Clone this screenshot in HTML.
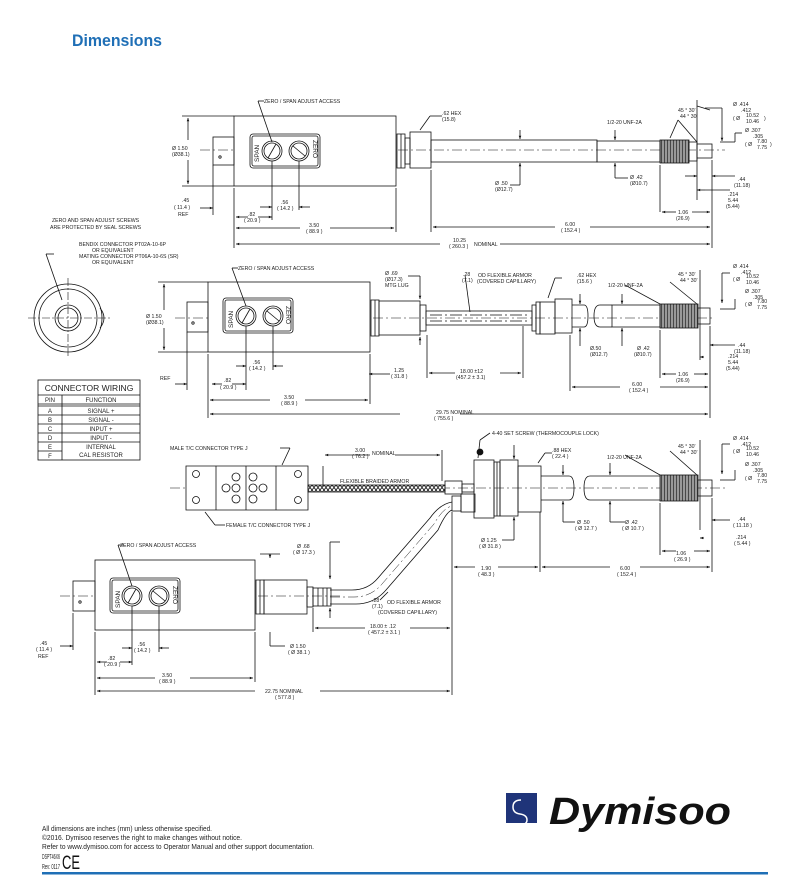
<!DOCTYPE html>
<html><head><meta charset="utf-8"><style>
html,body{margin:0;padding:0;background:#fff;}
body{width:810px;height:887px;position:relative;overflow:hidden;font-family:"Liberation Sans",sans-serif;}
svg text{font-family:"Liberation Sans",sans-serif;fill:#222;}
</style></head><body>
<svg width="810" height="887" viewBox="0 0 810 887" xmlns="http://www.w3.org/2000/svg">
<defs>
<marker id="a" viewBox="0 0 10 10" refX="10" refY="5" markerWidth="5" markerHeight="4" orient="auto-start-reverse"><path d="M0,1 L10,5 L0,9z" fill="#111"/></marker>
<pattern id="thr" width="3" height="4" patternUnits="userSpaceOnUse"><rect width="3" height="4" fill="#999"/><line x1="1.5" y1="0" x2="1.5" y2="4" stroke="#333" stroke-width="0.8"/></pattern>
<pattern id="brd" width="4" height="5" patternUnits="userSpaceOnUse"><rect width="4" height="5" fill="#fff"/><path d="M0,0 L4,5 M4,0 L0,5" stroke="#222" stroke-width="0.9"/></pattern>
</defs>
<text x="72" y="46" font-size="17" font-weight="bold" style="fill:#1f6fb6" textLength="90" lengthAdjust="spacingAndGlyphs">Dimensions</text>

<g stroke="#111" stroke-width="0.8" fill="none">
<!-- ===== DRAWING 1 ===== -->
<line x1="200" y1="150" x2="725" y2="150" stroke-dasharray="10,3,2,3" stroke-width="0.6"/>
<rect x="234" y="116" width="162" height="70" fill="#fff"/>
<rect x="213" y="137" width="21" height="28"/>
<circle cx="220" cy="157" r="1.2"/>
<rect x="250" y="134" width="70" height="34" rx="3"/>
<rect x="252" y="136" width="66" height="30" rx="2"/>
<circle cx="272" cy="151" r="10"/><circle cx="272" cy="151" r="8"/>
<circle cx="299" cy="151" r="10"/><circle cx="299" cy="151" r="8"/>
<line x1="268" y1="158" x2="276" y2="144"/><line x1="293" y1="146" x2="305" y2="156"/>
<rect x="397" y="134" width="8" height="34"/><line x1="401" y1="134" x2="401" y2="168"/>
<rect x="405" y="138" width="5" height="26"/>
<rect x="410" y="132" width="21" height="36"/>
<rect x="431" y="140" width="166" height="22"/>
<rect x="597" y="141" width="63" height="21"/>
<rect x="660" y="140" width="29" height="23" fill="url(#thr)"/>
<rect x="689" y="142" width="8" height="19"/>
<rect x="697" y="144" width="15" height="14"/>
<!-- dims d1 -->
<line x1="182" y1="116" x2="234" y2="116"/><line x1="182" y1="186" x2="234" y2="186"/>
<line x1="188" y1="118" x2="188" y2="140" marker-end="url(#a)" transform="rotate(180 188 129)"/>
<line x1="188" y1="160" x2="188" y2="184" marker-end="url(#a)"/>
<line x1="213" y1="165" x2="213" y2="215"/><line x1="234" y1="188" x2="234" y2="248"/>
<line x1="200" y1="208" x2="213" y2="208" marker-end="url(#a)"/>
<line x1="272" y1="161" x2="272" y2="220"/><line x1="299" y1="161" x2="299" y2="210"/>
<line x1="236" y1="217" x2="248" y2="217" marker-start="url(#a)"/><line x1="258" y1="217" x2="272" y2="217" marker-end="url(#a)"/>
<line x1="260" y1="207" x2="272" y2="207" marker-end="url(#a)"/><line x1="310" y1="207" x2="299" y2="207" marker-end="url(#a)"/>
<line x1="396" y1="188" x2="396" y2="232"/>
<line x1="236" y1="228" x2="300" y2="228" marker-start="url(#a)"/><line x1="330" y1="228" x2="394" y2="228" marker-end="url(#a)"/>
<line x1="236" y1="244" x2="440" y2="244" marker-start="url(#a)"/><line x1="500" y1="244" x2="710" y2="244" marker-end="url(#a)"/>
<line x1="431" y1="170" x2="431" y2="232"/><line x1="712" y1="160" x2="712" y2="248"/>
<line x1="433" y1="227" x2="555" y2="227" marker-start="url(#a)"/><line x1="590" y1="227" x2="710" y2="227" marker-end="url(#a)"/>
<line x1="660" y1="165" x2="660" y2="212"/>
<line x1="662" y1="212" x2="676" y2="212" marker-start="url(#a)"/><line x1="692" y1="212" x2="710" y2="212" marker-end="url(#a)"/>
<line x1="520" y1="130" x2="520" y2="139" marker-end="url(#a)"/><line x1="520" y1="175" x2="520" y2="163" marker-end="url(#a)"/>
<line x1="520" y1="175" x2="520" y2="185"/><line x1="520" y1="185" x2="510" y2="185"/>
<line x1="615" y1="130" x2="615" y2="140" marker-end="url(#a)"/><line x1="615" y1="173" x2="615" y2="163" marker-end="url(#a)"/>
<line x1="615" y1="173" x2="615" y2="178"/><line x1="615" y1="178" x2="628" y2="178"/>
<line x1="697" y1="100" x2="697" y2="200"/><line x1="697" y1="106" x2="710" y2="110"/>
<line x1="678" y1="120" x2="697" y2="142"/><line x1="678" y1="120" x2="670" y2="138"/>
<line x1="705" y1="108" x2="722" y2="108"/><line x1="722" y1="108" x2="722" y2="140"/><line x1="722" y1="140" x2="722" y2="141" marker-end="url(#a)"/>
<line x1="720" y1="142" x2="735" y2="142"/><line x1="735" y1="142" x2="735" y2="133"/><line x1="735" y1="133" x2="742" y2="133"/>
<line x1="718" y1="176" x2="712" y2="176" marker-end="url(#a)"/><line x1="718" y1="176" x2="735" y2="176"/>
<line x1="705" y1="190" x2="697" y2="190" marker-end="url(#a)"/><line x1="705" y1="190" x2="730" y2="190"/>
<line x1="685" y1="176" x2="697" y2="176" marker-end="url(#a)"/>
<line x1="420" y1="130" x2="430" y2="116"/><line x1="430" y1="116" x2="442" y2="116"/>
<line x1="272" y1="142" x2="258" y2="101"/><line x1="258" y1="101" x2="264" y2="101"/>

<!-- ===== DRAWING 2 ===== -->
<circle cx="68" cy="318" r="34"/><circle cx="68" cy="318" r="29"/>
<path d="M100,308 q8,10 0,20"/>
<circle cx="68" cy="318" r="13"/><circle cx="68" cy="318" r="10"/>
<line x1="68" y1="278" x2="68" y2="358" stroke-dasharray="8,2,2,2" stroke-width="0.6"/>
<line x1="28" y1="318" x2="110" y2="318" stroke-dasharray="8,2,2,2" stroke-width="0.6"/>
<line x1="62" y1="300" x2="46" y2="254"/><line x1="46" y1="254" x2="54" y2="254"/>
<line x1="175" y1="318" x2="715" y2="318" stroke-dasharray="10,3,2,3" stroke-width="0.6"/>
<rect x="208" y="282" width="162" height="70" fill="#fff"/>
<rect x="187" y="302" width="21" height="30"/><circle cx="193" cy="323" r="1.2"/>
<rect x="223" y="298" width="70" height="35" rx="3"/><rect x="225" y="300" width="66" height="31" rx="2"/>
<circle cx="246" cy="316" r="10"/><circle cx="246" cy="316" r="8"/>
<circle cx="273" cy="316" r="10"/><circle cx="273" cy="316" r="8"/>
<line x1="242" y1="323" x2="250" y2="309"/><line x1="267" y1="311" x2="279" y2="321"/>
<rect x="371" y="300" width="8" height="36"/><line x1="375" y1="300" x2="375" y2="336"/>
<rect x="379" y="301" width="41" height="34"/>
<rect x="420" y="305" width="6" height="26"/>
<rect x="426" y="311" width="106" height="14"/>
<line x1="430" y1="315" x2="528" y2="315" stroke-dasharray="12,3,2,3"/><line x1="430" y1="321" x2="528" y2="321" stroke-dasharray="12,3,2,3"/>
<rect x="532" y="305" width="4" height="26"/><rect x="536" y="302" width="4" height="32"/>
<rect x="540" y="302" width="15" height="32"/>
<rect x="555" y="299" width="17" height="34"/>
<path d="M572,305 h12 q4,0 4,11 q0,11 -4,11 h-12"/>
<path d="M600,305 q-6,0 -6,11 q0,11 6,11"/>
<line x1="600" y1="305" x2="612" y2="305"/><line x1="600" y1="327" x2="612" y2="327"/>
<rect x="612" y="305" width="48" height="22"/>
<rect x="660" y="304" width="38" height="24" fill="url(#thr)"/>
<rect x="698" y="308" width="12" height="16"/>
<!-- d2 dims -->
<line x1="158" y1="282" x2="208" y2="282"/><line x1="158" y1="352" x2="208" y2="352"/>
<line x1="164" y1="310" x2="164" y2="284" marker-end="url(#a)"/><line x1="164" y1="328" x2="164" y2="350" marker-end="url(#a)"/>
<line x1="187" y1="332" x2="187" y2="390"/><line x1="208" y1="354" x2="208" y2="418"/>
<line x1="175" y1="384" x2="187" y2="384" marker-end="url(#a)"/>
<line x1="246" y1="326" x2="246" y2="390"/><line x1="273" y1="326" x2="273" y2="370"/>
<line x1="212" y1="384" x2="222" y2="384" marker-start="url(#a)"/><line x1="232" y1="384" x2="246" y2="384" marker-end="url(#a)"/>
<line x1="236" y1="366" x2="246" y2="366" marker-end="url(#a)"/><line x1="283" y1="366" x2="273" y2="366" marker-end="url(#a)"/>
<line x1="370" y1="354" x2="370" y2="404"/>
<line x1="210" y1="400" x2="270" y2="400" marker-start="url(#a)"/><line x1="305" y1="400" x2="368" y2="400" marker-end="url(#a)"/>
<line x1="210" y1="414" x2="400" y2="414" marker-start="url(#a)"/><line x1="460" y1="414" x2="708" y2="414" marker-end="url(#a)"/>
<line x1="710" y1="326" x2="710" y2="418"/><line x1="570" y1="335" x2="570" y2="391"/>
<line x1="572" y1="387" x2="620" y2="387" marker-start="url(#a)"/><line x1="660" y1="387" x2="708" y2="387" marker-end="url(#a)"/>
<line x1="427" y1="335" x2="427" y2="378"/><line x1="523" y1="326" x2="523" y2="378"/>
<line x1="429" y1="373" x2="455" y2="373" marker-start="url(#a)"/><line x1="500" y1="373" x2="521" y2="373" marker-end="url(#a)"/>
<line x1="380" y1="374" x2="369" y2="374" marker-end="url(#a)"/><line x1="380" y1="374" x2="390" y2="374"/>
<line x1="660" y1="330" x2="660" y2="378"/>
<line x1="662" y1="374" x2="676" y2="374" marker-start="url(#a)"/><line x1="694" y1="374" x2="708" y2="374" marker-end="url(#a)"/>
<line x1="408" y1="276" x2="420" y2="276"/><line x1="420" y1="276" x2="420" y2="299" marker-end="url(#a)"/>
<line x1="420" y1="345" x2="420" y2="337" marker-end="url(#a)"/>
<line x1="465" y1="275" x2="470" y2="312"/><line x1="548" y1="298" x2="555" y2="278"/><line x1="555" y1="278" x2="562" y2="278"/>
<line x1="580" y1="294" x2="580" y2="304" marker-end="url(#a)"/><line x1="580" y1="346" x2="580" y2="328" marker-end="url(#a)"/>
<line x1="622" y1="294" x2="622" y2="304" marker-end="url(#a)"/><line x1="622" y1="346" x2="622" y2="328" marker-end="url(#a)"/>
<line x1="625" y1="285" x2="660" y2="304"/><line x1="670" y1="282" x2="697" y2="304"/>
<line x1="700" y1="270" x2="700" y2="360"/>
<line x1="722" y1="273" x2="722" y2="303" marker-end="url(#a)"/><line x1="722" y1="273" x2="730" y2="273"/>
<line x1="720" y1="309" x2="735" y2="309"/><line x1="735" y1="309" x2="735" y2="299"/>
<line x1="718" y1="345" x2="710" y2="345" marker-end="url(#a)"/><line x1="718" y1="345" x2="735" y2="345"/>
<line x1="704" y1="357" x2="700" y2="357" marker-end="url(#a)"/>
<line x1="246" y1="306" x2="232" y2="268"/><line x1="232" y1="268" x2="238" y2="268"/>

<!-- connector table -->
<rect x="38" y="380" width="102" height="80"/>
<line x1="38" y1="395" x2="140" y2="395"/><line x1="38" y1="404" x2="140" y2="404"/><line x1="38" y1="406" x2="140" y2="406"/>
<line x1="38" y1="415" x2="140" y2="415"/><line x1="38" y1="424" x2="140" y2="424"/><line x1="38" y1="433" x2="140" y2="433"/><line x1="38" y1="442" x2="140" y2="442"/><line x1="38" y1="451" x2="62" y2="451"/>
<line x1="62" y1="395" x2="62" y2="460"/>

<!-- ===== DRAWING 3 ===== -->
<line x1="170" y1="488" x2="725" y2="488" stroke-dasharray="10,3,2,3" stroke-width="0.6"/>
<path d="M186,466 h122 v44 h-122z" fill="#fff"/>
<line x1="216" y1="466" x2="216" y2="510"/><line x1="246" y1="466" x2="246" y2="510"/><line x1="276" y1="466" x2="276" y2="510"/>
<circle cx="196" cy="474" r="3.5"/><circle cx="196" cy="500" r="3.5"/><circle cx="298" cy="474" r="3.5"/><circle cx="298" cy="500" r="3.5"/>
<circle cx="236" cy="477" r="4"/><circle cx="253" cy="477" r="4"/><circle cx="236" cy="488" r="4"/><circle cx="253" cy="488" r="4"/><circle cx="226" cy="488" r="4"/><circle cx="263" cy="488" r="4"/><circle cx="236" cy="499" r="4"/><circle cx="253" cy="499" r="4"/>
<rect x="308" y="485" width="137" height="7" fill="url(#brd)"/>
<rect x="445" y="481" width="17" height="13"/><rect x="462" y="484" width="12" height="8"/>
<rect x="474" y="460" width="20" height="58"/>
<rect x="494" y="462" width="6" height="54"/><line x1="497" y1="462" x2="497" y2="516"/>
<rect x="500" y="460" width="18" height="56"/>
<rect x="518" y="466" width="23" height="46"/>
<path d="M541,476 h28 q5,0 5,12 q0,12 -5,12 h-28"/>
<path d="M590,476 q-6,0 -6,12 q0,12 6,12"/><line x1="590" y1="476" x2="660" y2="476"/><line x1="590" y1="500" x2="660" y2="500"/>
<rect x="660" y="475" width="38" height="26" fill="url(#thr)"/>
<rect x="698" y="480" width="14" height="16"/>
<!-- capillary bend -->
<rect x="461" y="494" width="14" height="18"/><rect x="452" y="496" width="9" height="15"/>
<path d="M330,590 L352,590 Q368,590 378,578 L430,518 Q440,504 452,502" />
<path d="M330,604 L356,604 Q374,604 386,590 L438,530 Q446,512 452,510"/>
<path d="M330,597 L354,597 Q371,597 382,584 L434,524 Q443,508 452,506" stroke-dasharray="10,3,2,3" stroke-width="0.5"/>
<!-- lower housing -->
<line x1="60" y1="596" x2="340" y2="596" stroke-dasharray="10,3,2,3" stroke-width="0.6"/>
<rect x="95" y="560" width="160" height="70" fill="#fff"/>
<rect x="73" y="581" width="22" height="30"/><circle cx="80" cy="602" r="1.2"/>
<rect x="110" y="578" width="70" height="35" rx="3"/><rect x="112" y="580" width="66" height="31" rx="2"/>
<circle cx="132" cy="596" r="10"/><circle cx="132" cy="596" r="8"/>
<circle cx="159" cy="596" r="10"/><circle cx="159" cy="596" r="8"/>
<line x1="128" y1="603" x2="136" y2="589"/><line x1="153" y1="591" x2="165" y2="601"/>
<rect x="256" y="580" width="8" height="34"/><line x1="260" y1="580" x2="260" y2="614"/>
<rect x="264" y="580" width="43" height="34"/>
<rect x="307" y="587" width="6" height="20"/>
<rect x="313" y="588" width="18" height="18"/>
<line x1="318" y1="588" x2="318" y2="606"/><line x1="323" y1="588" x2="323" y2="606"/><line x1="327" y1="588" x2="327" y2="606"/>
<!-- d3 dims -->
<line x1="323" y1="466" x2="323" y2="487"/>
<line x1="325" y1="455" x2="370" y2="455" marker-start="url(#a)"/><line x1="395" y1="455" x2="440" y2="455" marker-end="url(#a)"/>
<line x1="442" y1="450" x2="442" y2="481"/>
<line x1="282" y1="465" x2="290" y2="448"/><line x1="290" y1="448" x2="280" y2="448"/>
<line x1="205" y1="512" x2="215" y2="525"/><line x1="215" y1="525" x2="225" y2="525"/>
<line x1="478" y1="458" x2="480" y2="440"/><line x1="480" y1="440" x2="490" y2="433"/>
<circle cx="480" cy="452" r="3" fill="#111"/>
<line x1="514" y1="445" x2="514" y2="459" marker-end="url(#a)"/><line x1="514" y1="530" x2="514" y2="517" marker-end="url(#a)"/>
<line x1="514" y1="530" x2="514" y2="540"/><line x1="514" y1="540" x2="502" y2="540"/>
<line x1="538" y1="463" x2="545" y2="453"/><line x1="545" y1="453" x2="552" y2="453"/>
<line x1="563" y1="465" x2="563" y2="475" marker-end="url(#a)"/><line x1="563" y1="512" x2="563" y2="501" marker-end="url(#a)"/>
<line x1="563" y1="512" x2="563" y2="522"/><line x1="563" y1="522" x2="575" y2="522"/>
<line x1="610" y1="463" x2="610" y2="475" marker-end="url(#a)"/><line x1="610" y1="512" x2="610" y2="501" marker-end="url(#a)"/>
<line x1="610" y1="512" x2="610" y2="522"/><line x1="610" y1="522" x2="625" y2="522"/>
<line x1="625" y1="455" x2="660" y2="475"/><line x1="670" y1="451" x2="697" y2="475"/>
<line x1="700" y1="440" x2="700" y2="530"/>
<line x1="722" y1="444" x2="722" y2="474" marker-end="url(#a)"/><line x1="722" y1="444" x2="730" y2="444"/>
<line x1="720" y1="480" x2="735" y2="480"/><line x1="735" y1="480" x2="735" y2="470"/>
<line x1="718" y1="520" x2="712" y2="520" marker-end="url(#a)"/><line x1="718" y1="520" x2="730" y2="520"/>
<line x1="704" y1="538" x2="700" y2="538" marker-end="url(#a)"/>
<line x1="660" y1="503" x2="660" y2="555"/>
<line x1="662" y1="551" x2="676" y2="551" marker-start="url(#a)"/><line x1="694" y1="551" x2="710" y2="551" marker-end="url(#a)"/>
<line x1="712" y1="498" x2="712" y2="572"/><line x1="540" y1="512" x2="540" y2="572"/>
<line x1="542" y1="567" x2="610" y2="567" marker-start="url(#a)"/><line x1="640" y1="567" x2="710" y2="567" marker-end="url(#a)"/>
<line x1="452" y1="512" x2="452" y2="695"/>
<line x1="454" y1="567" x2="475" y2="567" marker-start="url(#a)"/><line x1="498" y1="567" x2="538" y2="567" marker-end="url(#a)"/>
<line x1="313" y1="608" x2="313" y2="632"/>
<line x1="315" y1="628" x2="365" y2="628" marker-start="url(#a)"/><line x1="410" y1="628" x2="450" y2="628" marker-end="url(#a)"/>
<line x1="340" y1="542" x2="330" y2="542"/><line x1="330" y1="542" x2="330" y2="579" marker-end="url(#a)"/>
<line x1="330" y1="618" x2="330" y2="608" marker-end="url(#a)"/>
<line x1="270" y1="554" x2="270" y2="558" marker-end="url(#a)"/><line x1="280" y1="554" x2="260" y2="554"/>
<line x1="270" y1="632" x2="270" y2="646"/><line x1="270" y1="646" x2="285" y2="646"/>
<line x1="380" y1="600" x2="388" y2="592"/>
<line x1="95" y1="632" x2="95" y2="695"/><line x1="73" y1="613" x2="73" y2="650"/><line x1="255" y1="632" x2="255" y2="682"/>
<line x1="60" y1="646" x2="73" y2="646" marker-end="url(#a)"/>
<line x1="132" y1="606" x2="132" y2="665"/><line x1="159" y1="606" x2="159" y2="652"/>
<line x1="97" y1="662" x2="107" y2="662" marker-start="url(#a)"/><line x1="120" y1="662" x2="132" y2="662" marker-end="url(#a)"/>
<line x1="122" y1="648" x2="132" y2="648" marker-end="url(#a)"/><line x1="169" y1="648" x2="159" y2="648" marker-end="url(#a)"/>
<line x1="97" y1="678" x2="155" y2="678" marker-start="url(#a)"/><line x1="190" y1="678" x2="253" y2="678" marker-end="url(#a)"/>
<line x1="97" y1="691" x2="255" y2="691" marker-start="url(#a)"/><line x1="320" y1="691" x2="450" y2="691" marker-end="url(#a)"/>
<line x1="132" y1="586" x2="118" y2="545"/><line x1="118" y1="545" x2="124" y2="545"/>
</g>

<!-- labels -->
<g font-size="5.2">
<text x="264" y="103">ZERO / SPAN ADJUST ACCESS</text>
<text x="442" y="115">.62 HEX</text><text x="442" y="121">(15.8)</text>
<text x="172" y="150">Ø 1.50</text><text x="172" y="156">(Ø38.1)</text>
<text x="182" y="202">.45</text><text x="174" y="209">( 11.4 )</text><text x="178" y="216">REF</text>
<text x="248" y="216">.82</text><text x="244" y="222">( 20.9 )</text>
<text x="281" y="204">.56</text><text x="277" y="210">( 14.2 )</text>
<text x="309" y="227">3.50</text><text x="306" y="233">( 88.9 )</text>
<text x="565" y="226">6.00</text><text x="561" y="232">( 152.4 )</text>
<text x="453" y="242">10.25</text><text x="449" y="248">( 260.3 )</text><text x="474" y="246">NOMINAL</text>
<text x="495" y="185">Ø .50</text><text x="495" y="191">(Ø12.7)</text>
<text x="630" y="179">Ø .42</text><text x="630" y="185">(Ø10.7)</text>
<text x="678" y="214">1.06</text><text x="676" y="220">(26.9)</text>
<text x="738" y="181">.44</text><text x="734" y="187">(11.18)</text>
<text x="728" y="196">.214</text><text x="728" y="202">5.44</text><text x="726" y="208">(5.44)</text>
<text x="607" y="124">1/2-20 UNF-2A</text>
<text x="678" y="112">45 ° 30'</text><text x="680" y="118">44 ° 30'</text>
<text x="733" y="106">Ø .414</text><text x="741" y="112">.412</text><text x="733" y="120">( Ø</text><text x="746" y="117">10.52</text><text x="746" y="123">10.46</text><text x="764" y="120">)</text>
<text x="745" y="132">Ø .307</text><text x="753" y="138">.305</text><text x="745" y="146">( Ø</text><text x="757" y="143">7.80</text><text x="757" y="149">7.75</text><text x="770" y="146">)</text>

<text x="52" y="222">ZERO AND SPAN ADJUST SCREWS</text><text x="50" y="229">ARE PROTECTED BY SEAL SCREWS</text>
<text x="79" y="246">BENDIX  CONNECTOR  PT02A-10-6P</text><text x="92" y="252">OR  EQUIVALENT</text>
<text x="79" y="258">MATING  CONNECTOR  PT06A-10-6S  (SR)</text><text x="92" y="264">OR  EQUIVALENT</text>
<text x="238" y="270">ZERO / SPAN ADJUST ACCESS</text>
<text x="385" y="275">Ø .69</text><text x="385" y="281">(Ø17.3)</text><text x="385" y="287">MTG LUG</text>
<text x="463" y="276">.28</text><text x="462" y="282">(7.1)</text><text x="478" y="277">OD FLEXIBLE ARMOR</text><text x="477" y="283">(COVERED CAPILLARY)</text>
<text x="577" y="277">.62 HEX</text><text x="577" y="283">(15.6 )</text>
<text x="608" y="287">1/2-20 UNF-2A</text>
<text x="678" y="276">45 ° 30'</text><text x="680" y="282">44 ° 30'</text>
<text x="733" y="268">Ø .414</text><text x="741" y="274">.412</text><text x="733" y="281">( Ø</text><text x="746" y="278">10.52</text><text x="746" y="284">10.46</text>
<text x="745" y="293">Ø .307</text><text x="753" y="299">.305</text><text x="745" y="306">( Ø</text><text x="757" y="303">7.80</text><text x="757" y="309">7.75</text>
<text x="146" y="318">Ø 1.50</text><text x="146" y="324">(Ø38.1)</text>
<text x="160" y="380">REF</text>
<text x="224" y="382">.82</text><text x="220" y="389">( 20.9 )</text>
<text x="253" y="364">.56</text><text x="249" y="370">( 14.2 )</text>
<text x="284" y="399">3.50</text><text x="281" y="405">( 88.9 )</text>
<text x="394" y="372">1.25</text><text x="391" y="378">( 31.8 )</text>
<text x="460" y="373">18.00 ±12</text><text x="456" y="379">(457.2 ± 3.1)</text>
<text x="632" y="386">6.00</text><text x="629" y="392">( 152.4 )</text>
<text x="436" y="414">29.75    NOMINAL</text><text x="434" y="420">( 755.6 )</text>
<text x="590" y="350">Ø.50</text><text x="590" y="356">(Ø12.7)</text>
<text x="637" y="350">Ø .42</text><text x="634" y="356">(Ø10.7)</text>
<text x="678" y="376">1.06</text><text x="676" y="382">(26.9)</text>
<text x="738" y="347">.44</text><text x="734" y="353">(11.18)</text>
<text x="728" y="358">.214</text><text x="728" y="364">5.44</text><text x="726" y="370">(5.44)</text>

<text x="170" y="450">MALE T/C CONNECTOR TYPE J</text>
<text x="355" y="452">3.00</text><text x="352" y="458">( 76.2 )</text><text x="372" y="455">NOMINAL</text>
<text x="340" y="483">FLEXIBLE BRAIDED ARMOR</text>
<text x="226" y="527">FEMALE T/C CONNECTOR TYPE J</text>
<text x="492" y="435">4-40 SET SCREW (THERMOCOUPLE LOCK)</text>
<text x="552" y="452">.88 HEX</text><text x="552" y="458">( 22.4 )</text>
<text x="607" y="459">1/2-20 UNF-2A</text>
<text x="678" y="448">45 ° 30'</text><text x="680" y="454">44 ° 30'</text>
<text x="733" y="440">Ø .414</text><text x="741" y="446">.412</text><text x="733" y="453">( Ø</text><text x="746" y="450">10.52</text><text x="746" y="456">10.46</text>
<text x="745" y="466">Ø .307</text><text x="753" y="472">.305</text><text x="745" y="480">( Ø</text><text x="757" y="477">7.80</text><text x="757" y="483">7.75</text>
<text x="577" y="524">Ø .50</text><text x="575" y="530">( Ø 12.7 )</text>
<text x="625" y="524">Ø .42</text><text x="622" y="530">( Ø 10.7 )</text>
<text x="738" y="521">.44</text><text x="733" y="527">( 11.18 )</text>
<text x="736" y="539">.214</text><text x="734" y="545">( 5.44 )</text>
<text x="676" y="555">1.06</text><text x="674" y="561">( 26.9 )</text>
<text x="481" y="542">Ø 1.25</text><text x="479" y="548">( Ø 31.8 )</text>
<text x="481" y="570">1.90</text><text x="478" y="576">( 48.3 )</text>
<text x="620" y="570">6.00</text><text x="617" y="576">( 152.4 )</text>
<text x="120" y="547">ZERO / SPAN ADJUST ACCESS</text>
<text x="297" y="548">Ø .68</text><text x="293" y="554">( Ø 17.3 )</text>
<text x="372" y="602">.28</text><text x="372" y="608">(7.1)</text><text x="387" y="604">OD FLEXIBLE ARMOR</text><text x="378" y="614">(COVERED CAPILLARY)</text>
<text x="370" y="628">18.00  ± .12</text><text x="368" y="634">( 457.2 ± 3.1 )</text>
<text x="290" y="648">Ø 1.50</text><text x="288" y="654">( Ø 38.1 )</text>
<text x="40" y="645">.45</text><text x="36" y="651">( 11.4 )</text><text x="38" y="658">REF</text>
<text x="108" y="660">.82</text><text x="104" y="666">( 20.9 )</text>
<text x="138" y="646">.56</text><text x="134" y="652">( 14.2 )</text>
<text x="162" y="677">3.50</text><text x="159" y="683">( 88.9 )</text>
<text x="265" y="693">22.75 NOMINAL</text><text x="275" y="699">( 577.8 )</text>
</g>
<g font-size="8" text-anchor="middle">
<text x="89" y="391" font-size="8.5">CONNECTOR  WIRING</text>
<text x="50" y="402" font-size="6">PIN</text><text x="101" y="402" font-size="6">FUNCTION</text>
<g font-size="6"><text x="50" y="413">A</text><text x="101" y="413">SIGNAL +</text>
<text x="50" y="422">B</text><text x="101" y="422">SIGNAL -</text>
<text x="50" y="431">C</text><text x="101" y="431">INPUT  +</text>
<text x="50" y="440">D</text><text x="101" y="440">INPUT  -</text>
<text x="50" y="449">E</text><text x="101" y="449">INTERNAL</text>
<text x="50" y="458">F</text><text x="101" y="457">CAL RESISTOR</text></g>
</g>
<g font-size="6.5">
<text transform="translate(259,162) rotate(-90)">SPAN</text><text transform="translate(313,140) rotate(90)">ZERO</text>
<text transform="translate(233,328) rotate(-90)">SPAN</text><text transform="translate(286,306) rotate(90)">ZERO</text>
<text transform="translate(120,608) rotate(-90)">SPAN</text><text transform="translate(173,586) rotate(90)">ZERO</text>
</g>

<!-- footer -->
<rect x="506" y="793" width="31" height="30" fill="#1f3479"/>
<path d="M521,800 q-8,0 -8,7 q0,6 7,7 q7,1 7,6 q0,5 -8,5" stroke="#fff" stroke-width="1.5" fill="none"/>
<text x="549" y="824" font-size="38" font-weight="bold" font-style="italic" style="fill:#111" textLength="182" lengthAdjust="spacingAndGlyphs">Dymisoo</text>
<g font-size="7" style="fill:#333">
<text x="42" y="831" textLength="170" lengthAdjust="spacingAndGlyphs">All dimensions are inches (mm) unless otherwise specified.</text>
<text x="42" y="840" textLength="200" lengthAdjust="spacingAndGlyphs">©2016. Dymisoo reserves the right to make changes without notice.</text>
<text x="42" y="849" textLength="272" lengthAdjust="spacingAndGlyphs">Refer to www.dymisoo.com for access to Operator Manual and other support documentation.</text>
<text x="42" y="859" textLength="18" lengthAdjust="spacingAndGlyphs">DSPT46X6</text>
<text x="42" y="869" textLength="18" lengthAdjust="spacingAndGlyphs">Rev: 0117</text>
</g>
<text x="62" y="869" font-size="19" style="fill:#111" textLength="18" lengthAdjust="spacingAndGlyphs">CE</text>
<rect x="42" y="872" width="726" height="2.5" fill="#1f6fb6"/>
</svg>
</body></html>
